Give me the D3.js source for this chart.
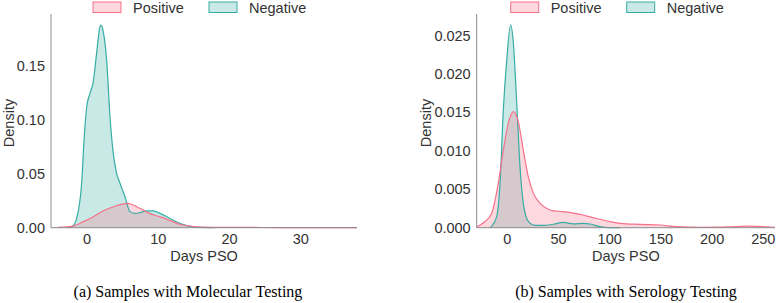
<!DOCTYPE html>
<html><head><meta charset="utf-8">
<script src="https://cdn.jsdelivr.net/npm/d3@7"></script>
<style>body{margin:0;background:#fff}svg{display:block}</style>
</head><body>
<script>
// ---- data ----
const seriesNames = ["Positive", "Negative"];
// (a) Molecular testing: [day, density]
const molPositive = [[-4.1,0.0003],[-2,0.0015],[-0.5,0.0056],[0.9,0.0102],[2.3,0.0157],[3.7,0.0194],[5.6,0.0226],[6.0,0.0222],[7.4,0.0180],[8.8,0.0133],[10.2,0.0102],[11.6,0.0068],[13.0,0.0032],[14.4,0.0016],[16,0.0006],[20,0.0003],[25,0.0002],[30,0.0001],[37.9,0.0001]];
const molNegative = [[-2.6,0.0],[-2.0,0.0016],[-1.45,0.0087],[-0.75,0.0412],[-0.38,0.0842],[-0.04,0.1121],[0.42,0.1244],[0.88,0.1352],[1.35,0.1615],[1.82,0.1861],[1.96,0.1877],[2.29,0.1815],[2.76,0.1553],[3.23,0.1028],[3.69,0.0689],[4.16,0.0504],[4.63,0.0412],[5.33,0.0288],[6.03,0.0149],[6.73,0.0133],[7.43,0.0139],[8.36,0.0155],[9.3,0.0155],[10.24,0.0133],[11.6,0.0088],[13.0,0.0041],[14.0,0.0019],[15.0,0.0008],[17,0.0001],[18,0.0]];
// (b) Serology testing
const serPositive = [[-29.9,0.0001],[-21.8,0.0008],[-15.2,0.0019],[-8.8,0.0058],[-3.9,0.0101],[1.0,0.0136],[5.9,0.0151],[10.7,0.0138],[15.6,0.0101],[20.5,0.0066],[25.4,0.0045],[31.9,0.0032],[40,0.0024],[45,0.0022],[54.7,0.0021],[64.5,0.0019],[74.2,0.00165],[80.8,0.0014],[90.5,0.0011],[100.3,0.0008],[110,0.00057],[129.6,0.00044],[149,0.00035],[165,0.00013],[190,0.00005],[215,0.0001],[237,0.0002],[255,0.0001],[261.4,0.00005]];
const serNegative = [[-17,0.0],[-15.2,0.0002],[-10.4,0.00143],[-7.1,0.0058],[-3.9,0.0153],[-0.6,0.0218],[3.3,0.0264],[5.9,0.0240],[9.2,0.0162],[12.4,0.0079],[15.6,0.0032],[18.9,0.0012],[22.2,0.0006],[27,0.0003],[35,0.0003],[45,0.00045],[54.7,0.0007],[64.5,0.0005],[74.2,0.00057],[80.8,0.00048],[90.5,0.00013],[100,0.0],[110,0.0]];
const molXTicks = [0,10,20,30];
const molYTicks = [0.00,0.05,0.10,0.15];
const serXTicks = [0,50,100,150,200,250];
const serYTicks = [0.000,0.005,0.010,0.015,0.020,0.025];
const captions = ["(a) Samples with Molecular Testing","(b) Samples with Serology Testing"];

const colors = {Positive:"#f77189", Negative:"#36ada4"};
const W = 777, H = 303;
const svg = d3.select("body").append("svg").attr("width",W).attr("height",H);
const sans = "Liberation Sans, Arial, sans-serif";

function panel(cfg){
  const g = svg.append("g");
  const x = d3.scaleLinear().domain(cfg.xd).range([cfg.x0, cfg.x1]);
  const y = d3.scaleLinear().domain(cfg.yd).range([227.7, 14]);
  const area = d3.area().x(d=>x(d[0])).y0(y(0)).y1(d=>y(d[1])).curve(d3.curveMonotoneX);
  const line = d3.line().x(d=>x(d[0])).y(d=>y(d[1])).curve(d3.curveMonotoneX);
  const series = [{n:"Negative",d:cfg.neg},{n:"Positive",d:cfg.pos}];
  series.forEach(s=>{
    g.append("path").attr("d",area(s.d)).attr("fill",colors[s.n]).attr("fill-opacity",0.27);
  });
  series.forEach(s=>{
    g.append("path").attr("d",line(s.d)).attr("fill","none").attr("stroke",colors[s.n]).attr("stroke-width",1.2);
  });
  // spines
  g.append("line").attr("x1",cfg.x0).attr("x2",cfg.x0).attr("y1",14).attr("y2",227.7).attr("stroke","#8c8c8c").attr("stroke-width",1);
  g.append("line").attr("x1",cfg.x0).attr("x2",cfg.x1).attr("y1",227.7).attr("y2",227.7).attr("stroke","#8c8c8c").attr("stroke-width",1);
  // ticks
  g.selectAll(".yt").data(cfg.yt).enter().append("text")
    .attr("x",cfg.x0-6).attr("y",d=>y(d)).attr("dy","0.35em").attr("text-anchor","end")
    .attr("font-family",sans).attr("font-size",14.5).attr("fill","#333")
    .text(d=>d.toFixed(cfg.yfmt));
  g.selectAll(".xt").data(cfg.xt).enter().append("text")
    .attr("x",d=>x(d)).attr("y",244).attr("text-anchor","middle")
    .attr("font-family",sans).attr("font-size",14.5).attr("fill","#333")
    .text(d=>d);
  g.append("text").attr("x",(cfg.x0+cfg.x1)/2).attr("y",260.5).attr("text-anchor","middle")
    .attr("font-family",sans).attr("font-size",14.5).attr("fill","#333").text("Days PSO");
  g.append("text").attr("transform",`translate(${cfg.ylx},123) rotate(-90)`).attr("dy","0.35em").attr("text-anchor","middle")
    .attr("font-family",sans).attr("font-size",14.5).attr("fill","#333").text("Density");
  g.append("text").attr("x",cfg.capx).attr("y",297).attr("text-anchor","middle")
    .attr("font-family","Liberation Serif, Times New Roman, serif").attr("font-size",16).attr("fill","#000").text(cfg.cap);
  // legend
  seriesNames.forEach((n,i)=>{
    const lx = cfg.legx[i];
    g.append("rect").attr("x",lx).attr("y",2).attr("width",28).attr("height",10.5)
      .attr("fill",colors[n]).attr("fill-opacity",0.27).attr("stroke",colors[n]).attr("stroke-width",1);
    g.append("text").attr("x",lx+40).attr("y",12.5).attr("font-family",sans).attr("font-size",14.5).attr("fill","#333").text(n);
  });
}

panel({x0:51,x1:357,xd:[-5.05,37.9],yd:[0,0.198],pos:molPositive,neg:molNegative,xt:molXTicks,yt:molYTicks,yfmt:2,ylx:9,capx:188,cap:captions[0],legx:[93,209]});
panel({x0:476.7,x1:775,xd:[-29.9,261.4],yd:[0,0.0278],pos:serPositive,neg:serNegative,xt:serXTicks,yt:serYTicks,yfmt:3,ylx:425.7,capx:626,cap:captions[1],legx:[510.7,626.7]});
</script>
</body></html>
